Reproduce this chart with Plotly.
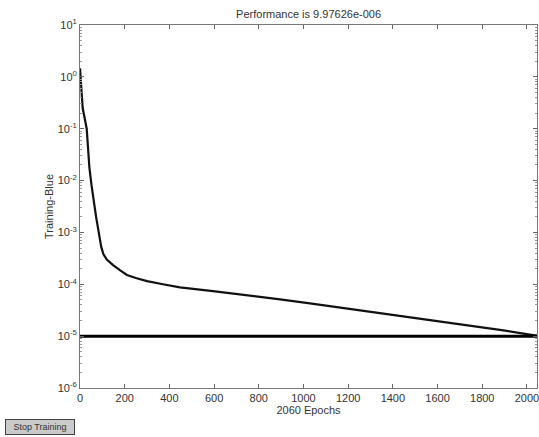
import plotly.graph_objects as go

# Training performance
epochs = [0, 12, 30, 42, 52, 72, 95, 105, 120, 148, 180, 210, 250, 300, 371, 447,
          595, 747, 895, 1029, 1283, 1580, 1879, 2027, 2060]
perf = [1.46, 0.25, 0.10, 0.0178, 0.0079, 0.0020, 0.000525, 0.00038, 0.00030, 0.000234,
        0.000185, 0.000151, 0.000132, 0.000115, 0.000100, 0.000087,
        0.000074, 0.000062, 0.000051, 0.0000427, 0.0000302, 0.0000200, 0.0000132,
        0.0000105, 0.00000998]
goal = 1e-5

y_tickvals = [1e1, 1e0, 1e-1, 1e-2, 1e-3, 1e-4, 1e-5, 1e-6]
y_ticktext = ["10<sup>1</sup>", "10<sup>0</sup>", "10<sup>-1</sup>", "10<sup>-2</sup>",
              "10<sup>-3</sup>", "10<sup>-4</sup>", "10<sup>-5</sup>", "10<sup>-6</sup>"]
y_minor = [m * 10.0 ** e for e in range(-6, 1) for m in range(2, 10)]
x_tickvals = [0, 200, 400, 600, 800, 1000, 1200, 1400, 1600, 1800, 2000]

fig = go.Figure()
# goal line drawn on the overlay axis (same log range) so that its minor ticks render
fig.add_trace(go.Scatter(x=[0, 2060], y=[goal, goal], mode="lines", yaxis="y2",
                         line=dict(color="black", width=3), showlegend=False))
fig.add_trace(go.Scatter(x=epochs, y=perf, mode="lines",
                         line=dict(color="#111111", width=2.2), showlegend=False))

axis_font = dict(family="Arial, Liberation Sans, sans-serif", size=11, color="#333333")
fig.update_layout(
    width=539, height=437,
    margin=dict(l=80, r=0, t=25, b=49),
    paper_bgcolor="white", plot_bgcolor="white",
    font=axis_font,
    title=dict(text="Performance is 9.97626e-006", x=0.5725, xanchor="center",
               y=0.968, yanchor="middle", font=dict(size=11, color="#333333")),
    xaxis=dict(range=[0, 2045], tickmode="array", tickvals=x_tickvals,
               ticks="inside", ticklen=4, tickcolor="#666666",
               ticklabeloverflow="allow",
               showline=True, linecolor="#777777", linewidth=1, mirror="ticks",
               showgrid=False, zeroline=False,
               title=dict(text="2060 Epochs", standoff=2, font=axis_font)),
    yaxis=dict(type="log", range=[-6, 1], tickmode="array", tickvals=y_tickvals,
               ticktext=y_ticktext, ticks="inside", ticklen=4, tickcolor="#666666",
               showline=True, linecolor="#777777", linewidth=1, mirror="ticks",
               showgrid=False, zeroline=False,
               title=dict(text="Training-Blue", standoff=1, font=axis_font)),
    yaxis2=dict(type="log", range=[-6, 1], overlaying="y", side="left", anchor="x",
                tickmode="array", tickvals=y_minor, ticks="inside", ticklen=2,
                tickcolor="#999999", showticklabels=False, showline=False,
                mirror="ticks", showgrid=False, zeroline=False),
)

fig.add_annotation(text="Stop Training", xref="paper", yref="paper",
                   x=-75 / 459, y=-31 / 363, xanchor="left", yanchor="top",
                   showarrow=False, bgcolor="#cacaca", bordercolor="#444444",
                   borderwidth=1, borderpad=1, width=66, height=12,
                   font=dict(size=9, color="#333333"))

fig.write_html("out.html")
